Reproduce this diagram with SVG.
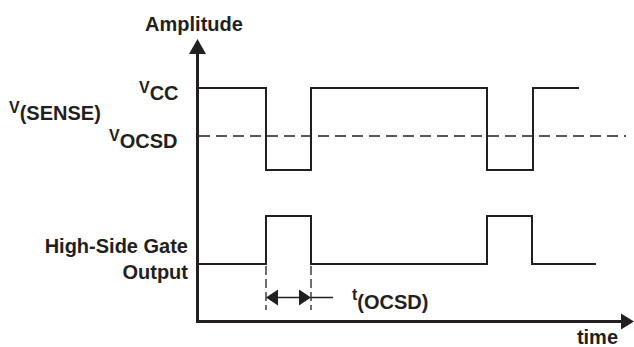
<svg xmlns="http://www.w3.org/2000/svg" width="634" height="347" viewBox="0 0 634 347">
<style>
text{font-family:"Liberation Sans",Arial,sans-serif;font-weight:bold;fill:#231f20}
.big{font-size:20px}
.sm{font-size:16px}
.axis{stroke:#231f20;stroke-width:3;fill:none}
.wave{stroke:#231f20;stroke-width:2;fill:none;stroke-linejoin:miter}
.dash{stroke:#231f20;stroke-width:1.4;fill:none;stroke-dasharray:11 6}
.dim{stroke:#231f20;stroke-width:1.3;fill:none}
.head{fill:#231f20}
</style>
<rect width="634" height="347" fill="#fff"/>
<g id="axes">
<path class="axis" d="M197.5 52V321.5H624"/>
<polygon class="head" points="197.5,39 189,54 206,54"/>
<polygon class="head" points="634,321.5 621,313.5 621,329.5"/>
</g>
<g id="labels">
<text class="big" x="194" y="31" text-anchor="middle">Amplitude</text>
<text x="139" y="93"><tspan class="sm">V</tspan><tspan class="big" dy="7">CC</tspan></text>
<text x="9" y="113"><tspan class="sm">V</tspan><tspan class="big" dy="7">(SENSE)</tspan></text>
<text x="109" y="141"><tspan class="sm">V</tspan><tspan class="big" dy="7">OCSD</tspan></text>
<text class="big" x="188" y="253" text-anchor="end">High-Side Gate</text>
<text class="big" x="188" y="279" text-anchor="end">Output</text>
<text x="352" y="300"><tspan class="sm">t</tspan><tspan class="big" dy="9">(OCSD)</tspan></text>
<text class="big" x="618" y="344" text-anchor="end">time</text>
</g>
<g id="connectors">
<path class="dash" d="M199 136H626"/>
<path class="wave" d="M197 88H266V170H311V88H487V170H533V88H579"/>
<path class="wave" d="M197 264H266V216H311V264H487V216H532V264H596"/>
<path class="dim" d="M266 266V310M311 266V310" stroke-dasharray="9 4"/>
<path class="dim" d="M276 297.5H300M311 297.5H333"/>
<polygon class="head" points="266,297.5 278,289.5 278,305.5"/>
<polygon class="head" points="311,297.5 299,289.5 299,305.5"/>
</g>
</svg>
